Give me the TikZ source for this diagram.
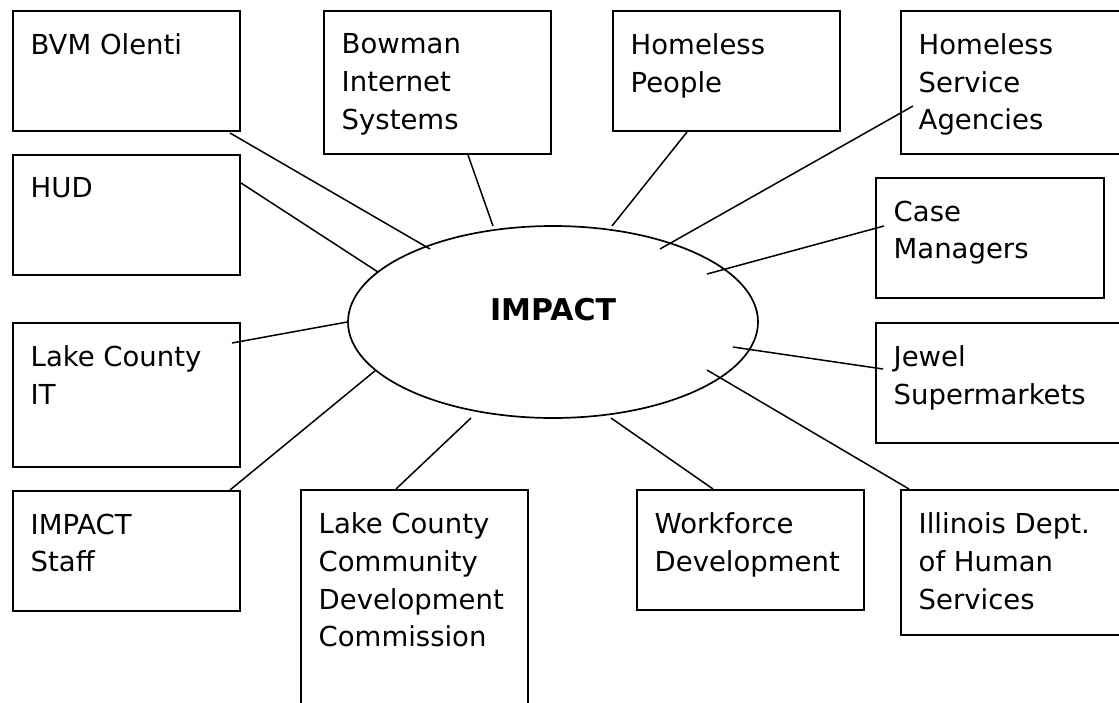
\documentclass[tikz,border=0pt]{standalone}
\usepackage{fontspec}
\setmainfont{DejaVu Sans}
\usetikzlibrary{positioning, shapes.geometric}

\begin{document}
\begin{tikzpicture}[x=1pt, y=-1pt,
    party/.style={
      draw, line width=2pt, rectangle, anchor=north west, inner sep=0pt,
      minimum width=227pt, minimum height=120pt,
      label={[anchor=north west, align=left, inner xsep=18.5pt, inner ysep=23.5pt,
              font=\fontsize{27.5pt}{37.7pt}\selectfont]north west:#1}
    },
    link/.style={line width=1.5pt}
    ]
  \useasboundingbox (0,0) rectangle (1119,702);
  \clip (0,0) rectangle (1119,702);
  % the system in the middle
  \node [draw, ellipse, line width=1.7pt, minimum width=410pt, minimum height=192pt, inner sep=0pt,
         label={[font=\fontsize{30pt}{36pt}\selectfont\bfseries, yshift=12pt]center:IMPACT}] (impact) at (553,322) {};
  % left column
  \node [party={BVM Olenti}] (bvm) at (12,10) {};
  \node [party={HUD}, below right=22pt and 0pt of bvm.south west] (hud) {};
  \node [party={Lake County\\IT}, minimum height=144pt, below right=46pt and 0pt of hud.south west] (lakeit) {};
  \node [party={IMPACT\\Staff}, below right=22pt and 0pt of lakeit.south west] (staff) {};
  % top and right
  \node [party={Bowman\\Internet\\Systems}, minimum height=143pt] (bowman) at (323,10) {};
  \node [party={Homeless\\People}] (people) at (612,10) {};
  \node [party={Homeless\\Service\\Agencies}, minimum height=143pt] (agencies) at (900,10) {};
  \node [party={Case\\Managers}, minimum width=228pt] (case) at (875,177) {};
  \node [party={Jewel\\Supermarkets}, minimum width=260pt] (jewel) at (875,322) {};
  % bottom row
  \node [party={Illinois Dept.\\of Human\\Services}, minimum width=260pt, minimum height=145pt] (illinois) at (900,489) {};
  \node [party={Workforce\\Development}] (workforce) at (636,489) {};
  \node [party={Lake County\\Community\\Development\\Commission}, minimum height=240pt] (ldc) at (300,489) {};
  % links to the system
  \draw [link] ([shift={(-11,1)}]bvm.south east) -- ([shift={(-123,-73)}]impact.center);
  \draw [link] ([shift={(0,29)}]hud.north east) -- ([shift={(-175,-50)}]impact.center);
  \draw [link] ([shift={(-9,21)}]lakeit.north east) -- (impact.west);
  \draw [link] ([shift={(-11,0)}]staff.north east) -- ([shift={(-177,48)}]impact.center);
  \draw [link] ([shift={(96,0)}]ldc.north west) -- ([shift={(-82,96)}]impact.center);
  \draw [link] ([shift={(77,0)}]workforce.north west) -- ([shift={(58,96)}]impact.center);
  \draw [link] ([shift={(9,0)}]illinois.north west) -- ([shift={(154,48)}]impact.center);
  \draw [link] ([shift={(8,47)}]jewel.north west) -- ([shift={(180,25)}]impact.center);
  \draw [link] ([shift={(9,49)}]case.north west) -- ([shift={(154,-48)}]impact.center);
  \draw [link] ([shift={(13,96)}]agencies.north west) -- ([shift={(107,-73)}]impact.center);
  \draw [link] ([shift={(75,0)}]people.south west) -- ([shift={(59,-96)}]impact.center);
  \draw [link] ([shift={(145,0)}]bowman.south west) -- ([shift={(-60,-96)}]impact.center);
\end{tikzpicture}
\end{document}
